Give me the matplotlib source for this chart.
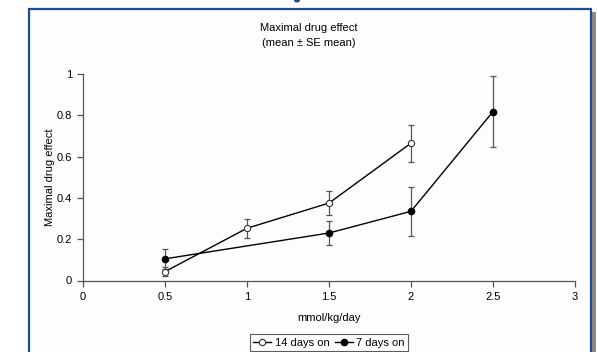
import matplotlib.pyplot as plt
from matplotlib.patches import Rectangle, Ellipse

plt.rcParams['font.family'] = ['Liberation Sans', 'DejaVu Sans']

# data
dose_14 = [0.5, 1.0, 1.5, 2.0]
effect_14 = [0.043, 0.253, 0.375, 0.665]
se_14 = [0.02, 0.045, 0.06, 0.09]

dose_7 = [0.5, 1.5, 2.0, 2.5]
effect_7 = [0.105, 0.23, 0.335, 0.818]
se_7 = [0.048, 0.06, 0.118, 0.17]

xticks = [0, 0.5, 1, 1.5, 2, 2.5, 3]
yticks = [0, 0.2, 0.4, 0.6, 0.8, 1]

W, H = 598, 352
fig = plt.figure(figsize=(W / 100, H / 100), dpi=100)

# slide frame with shadow
fig.patches.append(Rectangle((591 / W, 0), 4.5 / W, 1 - 12 / H, transform=fig.transFigure,
                             facecolor='#8c8c8c', edgecolor='none', zorder=-3))
fig.patches.append(Rectangle((28.5 / W, -0.02), 562 / W, 1.02 - 8.5 / H, transform=fig.transFigure,
                             facecolor='#fdfdfd', edgecolor='#1f4e8c', linewidth=1.6, zorder=-2))
# bit of the slide title that peeks in at the top
fig.patches.append(Ellipse((297 / W, 1 - 0.5 / H), 6 / W, 4 / H, transform=fig.transFigure,
                           facecolor='#1f4e8c', edgecolor='none', zorder=-2))

ax = fig.add_axes([83 / W, 1 - 280.5 / H, 492 / W, 206.5 / H])
ax.set_facecolor('none')

ax.errorbar(dose_14, effect_14, yerr=se_14, fmt='none', ecolor='#555555',
            elinewidth=0.9, capsize=2.5, capthick=0.9, zorder=2)
ax.errorbar(dose_7, effect_7, yerr=se_7, fmt='none', ecolor='#555555',
            elinewidth=0.9, capsize=2.5, capthick=0.9, zorder=2)
ax.plot(dose_14, effect_14, color='black', lw=1.0, marker='o', ms=4.5,
        mfc='white', mec='#333333', mew=0.8, label='14 days on', zorder=3)
ax.plot(dose_7, effect_7, color='black', lw=1.0, marker='o', ms=4.5,
        mfc='black', mec='black', label='7 days on', zorder=3)

ax.set_xlim(0, 3)
ax.set_ylim(0, 1)
ax.set_xticks(xticks)
ax.set_xticklabels(['0', '0.5', '1', '1.5', '2', '2.5', '3'])
ax.set_yticks(yticks)
ax.set_yticklabels(['0', '0.2', '0.4', '0.6', '0.8', '1'])
for s in ['top', 'right']:
    ax.spines[s].set_visible(False)
for s in ['left', 'bottom']:
    ax.spines[s].set_color('#555555')
    ax.spines[s].set_linewidth(0.9)
ax.tick_params(direction='out', length=4, width=0.9, color='#555555',
               labelsize=8, pad=4)

ax.set_xlabel('mmol/kg/day', fontsize=8, labelpad=8)
ax.set_ylabel('Maximal drug effect', fontsize=8, labelpad=1)

fig.text(309 / W, 1 - 35.5 / H, 'Maximal drug effect\n(mean \u00b1 SE mean)',
         ha='center', va='center', fontsize=8, linespacing=1.55)

leg = fig.legend(loc='center', bbox_to_anchor=(329 / W, 1 - 342.5 / H), ncol=2,
                 fontsize=8, frameon=True, fancybox=False, edgecolor='#333333',
                 handlelength=1.6, handletextpad=0.3, columnspacing=0.5,
                 borderpad=0.3, borderaxespad=0)
leg.get_frame().set_linewidth(0.8)

fig.savefig('out.png', dpi=100)
